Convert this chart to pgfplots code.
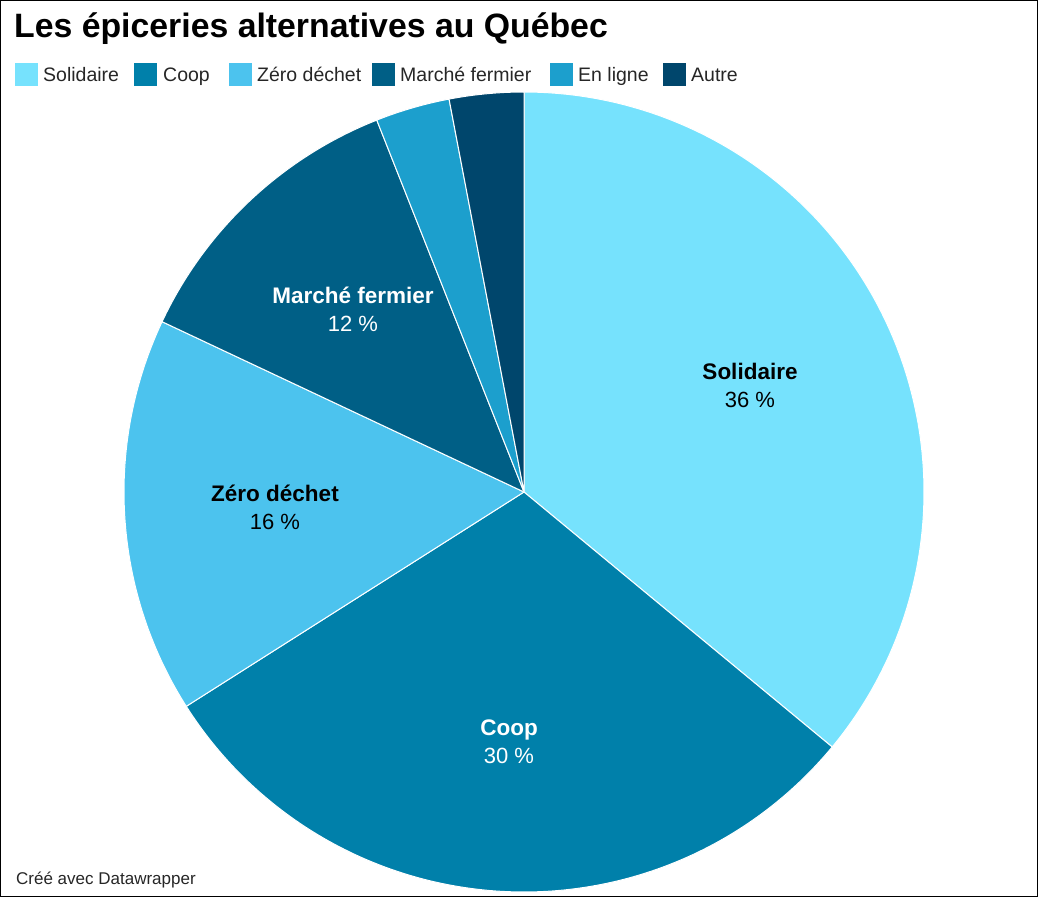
\documentclass[border=0pt]{standalone}
\usepackage{pgfplots}
\pgfplotsset{compat=1.18}
\usepackage{pgfplotstable}
\usepackage{fontspec}
\setmainfont{Liberation Sans}
\definecolor{cSol}{HTML}{76E2FD}
\definecolor{cCoop}{HTML}{0080AA}
\definecolor{cZero}{HTML}{4CC3EE}
\definecolor{cMarche}{HTML}{005F86}
\definecolor{cLigne}{HTML}{1C9FCD}
\definecolor{cAutre}{HTML}{00466C}
% shares in percent
\def\vSol{36}\def\vCoop{30}\def\vZero{16}\def\vMarche{12}\def\vLigne{3}\def\vAutre{3}
\pgfmathsetmacro\aA{90}
\pgfmathsetmacro\aB{\aA-3.6*\vSol}
\pgfmathsetmacro\aC{\aB-3.6*\vCoop}
\pgfmathsetmacro\aD{\aC-3.6*\vZero}
\pgfmathsetmacro\aE{\aD-3.6*\vMarche}
\pgfmathsetmacro\aF{\aE-3.6*\vLigne}
\pgfmathsetmacro\aG{\aF-3.6*\vAutre}
\begin{document}
\begin{tikzpicture}
\useasboundingbox (0,0) rectangle (1038pt,897pt);
\draw[black, line width=1.2pt] (0.6pt,0.6pt) rectangle (1037.4pt,896.4pt);
% title
\node[anchor=base west, inner sep=0pt, font=\bfseries\fontsize{33.8}{36}\selectfont] at (14pt,859pt) {Les épiceries alternatives au Québec};
% legend
\foreach \sx/\tx/\col/\lab in {15/43/cSol/Solidaire,134/163/cCoop/Coop,229/257/cZero/Zéro déchet,372/400/cMarche/Marché fermier,550/578/cLigne/En ligne,663/691/cAutre/Autre}{
  \fill[\col] (\sx pt,810.5pt) rectangle ++(23pt,23pt);
  \node[anchor=base west, inner sep=0pt, font=\fontsize{19.5}{21}\selectfont, text=black!85] at (\tx pt,815pt) {\lab};
}
% footer
\node[anchor=base west, inner sep=0pt, font=\fontsize{17}{18}\selectfont, text=black!85] at (16pt,13pt) {Créé avec Datawrapper};
\begin{axis}[
  at={(524pt,405pt)}, anchor=origin,
  width=800pt, height=800pt, scale only axis,
  xmin=-1, xmax=1, ymin=-1, ymax=1,
  hide axis, clip=false,
]
\addplot[fill=cSol, draw=white, line width=1pt, line join=round, domain=\aB:\aA, samples=150] ({cos(x)},{sin(x)}) -- (axis cs:0,0) -- cycle;
\addplot[fill=cCoop, draw=white, line width=1pt, line join=round, domain=\aC:\aB, samples=120] ({cos(x)},{sin(x)}) -- (axis cs:0,0) -- cycle;
\addplot[fill=cZero, draw=white, line width=1pt, line join=round, domain=\aD:\aC, samples=80] ({cos(x)},{sin(x)}) -- (axis cs:0,0) -- cycle;
\addplot[fill=cMarche, draw=white, line width=1pt, line join=round, domain=\aE:\aD, samples=60] ({cos(x)},{sin(x)}) -- (axis cs:0,0) -- cycle;
\addplot[fill=cLigne, draw=white, line width=1pt, line join=round, domain=\aF:\aE, samples=20] ({cos(x)},{sin(x)}) -- (axis cs:0,0) -- cycle;
\addplot[fill=cAutre, draw=white, line width=1pt, line join=round, domain=\aG:\aF, samples=20] ({cos(x)},{sin(x)}) -- (axis cs:0,0) -- cycle;
% labels
\node[anchor=base, inner sep=0pt, font=\bfseries\fontsize{22.5}{24}\selectfont, text=black] at (axis cs:0.565,0.28) {Solidaire};
\node[anchor=base, inner sep=0pt, font=\fontsize{22}{24}\selectfont, text=black] at (axis cs:0.565,0.21) {36 \%};
\node[anchor=base, inner sep=0pt, font=\bfseries\fontsize{22.5}{24}\selectfont, text=white] at (axis cs:-0.4275,0.47) {Marché fermier};
\node[anchor=base, inner sep=0pt, font=\fontsize{22}{24}\selectfont, text=white] at (axis cs:-0.4275,0.40) {12 \%};
\node[anchor=base, inner sep=0pt, font=\bfseries\fontsize{22.5}{24}\selectfont, text=black] at (axis cs:-0.6225,-0.025) {Zéro déchet};
\node[anchor=base, inner sep=0pt, font=\fontsize{22}{24}\selectfont, text=black] at (axis cs:-0.6225,-0.095) {16 \%};
\node[anchor=base, inner sep=0pt, font=\bfseries\fontsize{22.5}{24}\selectfont, text=white] at (axis cs:-0.0375,-0.6075) {Coop};
\node[anchor=base, inner sep=0pt, font=\fontsize{22}{24}\selectfont, text=white] at (axis cs:-0.0375,-0.6775) {30 \%};
\end{axis}
\end{tikzpicture}
\end{document}
